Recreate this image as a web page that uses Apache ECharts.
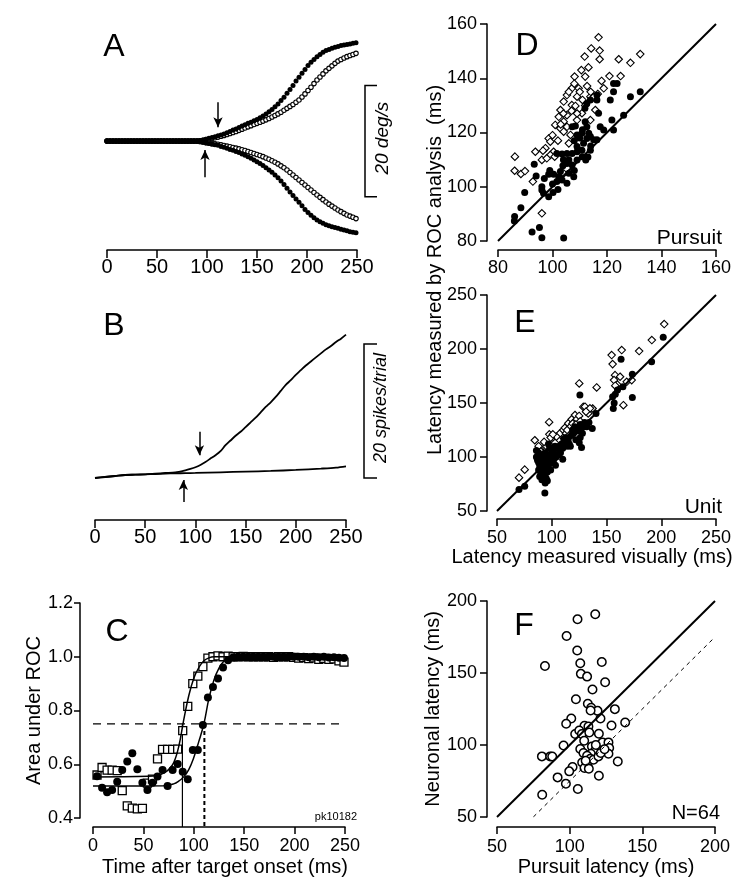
<!DOCTYPE html>
<html><head><meta charset="utf-8">
<script src="https://cdn.jsdelivr.net/npm/echarts/dist/echarts.min.js"></script>
<style>html,body{margin:0;padding:0;background:#fff}#c{width:750px;height:881px}</style>
</head><body><div id="c"></div><script>
const FONT = "'Liberation Sans', Arial, Helvetica, sans-serif";

// ---------- Panel A : eye velocity (deg/s), sampled every 3 ms ----------
const A_STEP_MS = 3;
const aUpperFilled = [0,0,0,0,0,0,0,0,0,0, 0,0,0,0,0,0,0,0,0,0, 0,0,0,0,0,0,0,0,0,0, 0,
  0.1,0.2,0.35,0.5,0.65,0.8,0.95,1.1,1.3,1.5, 1.75,2.0,2.2,2.45,2.7,2.95,3.2,3.4,3.65,3.9,
  4.2,4.5,4.9,5.3,5.7,6.2,6.7,7.3,7.9,8.6, 9.3,10.0,10.8,11.5,12.2,12.9,13.6,14.2,14.7,15.2,
  15.6,16.0,16.3,16.5,16.7,16.9,17.05,17.2,17.3,17.4, 17.5,17.6,17.7];
const aUpperOpen = [0,0,0,0,0,0,0,0,0,0, 0,0,0,0,0,0,0,0,0,0, 0,0,0,0,0,0,0,0,0,0, 0,
  0.05,0.15,0.27,0.37,0.48,0.6,0.72,0.88,1.03,1.2, 1.38,1.56,1.74,1.94,2.15,2.36,2.57,2.78,2.99,3.2,
  3.4,3.6,3.83,4.06,4.33,4.6,4.9,5.2,5.55,5.9, 6.25,6.6,7.0,7.4,7.95,8.5,9.1,9.7,10.35,11.0,
  11.55,12.1,12.65,13.1,13.55,14.0,14.4,14.7,14.95,15.2, 15.4,15.6,15.8];
const aLowerOpen = [0,0,0,0,0,0,0,0,0,0, 0,0,0,0,0,0,0,0,0,0, 0,0,0,0,0,0,0,0,0,0, 0,
  -0.05,-0.15,-0.27,-0.35,-0.42,-0.5,-0.57,-0.68,-0.79,-0.9, -1.02,-1.14,-1.26,-1.4,-1.55,-1.7,-1.86,-2.04,-2.22,-2.4,
  -2.6,-2.8,-3.03,-3.27,-3.54,-3.81,-4.1,-4.45,-4.8,-5.2, -5.65,-6.1,-6.55,-7.0,-7.45,-7.9,-8.35,-8.8,-9.25,-9.7,
  -10.12,-10.54,-10.96,-11.35,-11.7,-12.05,-12.4,-12.7,-13.0,-13.3, -13.5,-13.7,-13.95];
const aLowerFilled = [0,0,0,0,0,0,0,0,0,0, 0,0,0,0,0,0,0,0,0,0, 0,0,0,0,0,0,0,0,0,0, 0,
  -0.1,-0.2,-0.35,-0.45,-0.55,-0.65,-0.75,-0.95,-1.1,-1.3, -1.5,-1.65,-1.85,-2.05,-2.3,-2.55,-2.8,-3.1,-3.4,-3.7,
  -4.05,-4.4,-4.8,-5.2,-5.6,-6.1,-6.6,-7.2,-7.8,-8.5, -9.15,-9.8,-10.4,-11.0,-11.65,-12.3,-12.85,-13.35,-13.8,-14.2,
  -14.5,-14.8,-15.05,-15.25,-15.4,-15.55,-15.7,-15.85,-16.0,-16.15, -16.3,-16.4,-16.5];
const aArrowDown = {t: 111, from: 7.0, to: 2.5};
const aArrowUp = {t: 98, from: -6.5, to: -1.6};
const aScaleBar = 20; // deg/s

// ---------- Panel B : cumulative spikes/trial ----------
const bUpper = [[0,0],[10,0.15],[20,0.3],[30,0.45],[40,0.5],[50,0.55],[60,0.65],[70,0.75],[80,0.85],[90,1.15],[95,1.35],[100,1.6],[105,1.95],[110,2.4],[115,2.9],[120,3.4],[125,4.0],[130,4.9],[135,5.6],[140,6.3],[145,6.9],[150,7.6],[155,8.3],[160,9.0],[165,9.8],[170,10.6],[175,11.3],[180,12.1],[185,13.0],[190,13.9],[195,14.6],[200,15.4],[205,16.1],[210,16.8],[215,17.4],[220,18.0],[225,18.6],[230,19.2],[235,19.7],[240,20.3],[245,20.8],[250,21.4]];
const bLower = [[0,0],[10,0.15],[20,0.3],[30,0.45],[40,0.5],[50,0.55],[60,0.6],[70,0.65],[80,0.7],[90,0.72],[100,0.75],[125,0.85],[150,0.95],[175,1.05],[200,1.2],[225,1.4],[240,1.55],[250,1.75]];
const bArrowDown = {t: 104, from: 6.9, to: 3.4};
const bArrowUp = {t: 88, from: -3.6, to: -0.3};
const bScaleBar = 20; // spikes/trial

// ---------- Panel C : area under ROC ----------
const C_FIRST_MS = 4, C_STEP_MS = 5;
const cSquares = [0.56,0.588,0.578,0.578,0.576,0.502,0.445,0.437,0.434,0.436,
  0.53,0.545,0.62,0.655,0.655,0.655,0.656,0.725,0.815,0.9,
  0.928,0.963,0.995,1.0,1.003,1.0,1.002,1.0,1.0,1.001,
  1.0,1.0,1.0,1.0,1.0,0.998,1.0,1.0,1.0,0.998,
  0.995,0.997,0.993,0.996,0.99,0.994,0.99,0.992,0.985,0.98];
const cCircles = [0.555,0.513,0.496,0.504,0.535,0.579,0.61,0.641,0.581,0.531,
  0.504,0.531,0.554,0.579,0.519,0.579,0.601,0.572,0.544,0.653,
  0.653,0.746,0.848,0.887,0.919,0.96,0.987,0.997,1.0,1.0,
  1.0,1.0,1.0,1.0,1.0,1.0,1.0,1.0,1.0,1.0,
  1.0,1.0,0.998,1.0,0.998,1.0,0.997,0.998,0.996,0.995];
const cSquareFit = [[0,0.553],[55,0.555],[65,0.56],[70,0.567],[75,0.58],[80,0.605],[85,0.665],[90,0.765],[95,0.855],[100,0.92],[105,0.96],[110,0.985],[115,0.996],[120,1.0],[250,1.0]];
const cCircleFit = [[0,0.519],[70,0.52],[80,0.527],[85,0.537],[90,0.553],[95,0.58],[100,0.625],[105,0.685],[110,0.75],[115,0.845],[120,0.914],[125,0.958],[130,0.984],[135,0.996],[140,1.0],[250,1.0]];
const cThreshold = 0.75;
const cSquareLatency = 88.7, cCircleLatency = 110.5;

// ---------- Panel D : pursuit latency, visual vs ROC ----------
const dOpen = [[116.9,155.1],[114.2,151],[117.3,150.2],[111.8,148],[117.3,147],[124.3,147],[128.6,145.7],[132.2,148.9],[110.6,143],[113.2,144],[108.1,140.6],[112,140.6],[120.9,140.8],[125,140.8],[107.1,136.3],[109.6,136.3],[112.7,137.1],[118.8,136.3],[105.3,133.8],[109,133.2],[113.9,133.2],[116.6,134.2],[104.1,131.4],[107.1,130.1],[102.9,128.3],[105.3,126.4],[102.3,125.8],[104.1,124],[101,122.8],[102.9,121.5],[105.3,122.1],[106.6,119.1],[104.1,120.3],[108.4,129.8],[113.9,124.6],[115.7,128.3],[98.6,117.8],[99.2,116.6],[97.4,114.2],[96.5,113.3],[100.4,112.9],[99.2,111.7],[93.7,112.9],[96.1,109.9],[97.9,110.5],[100.8,111.1],[86.2,111.1],[86.1,105.9],[88.4,104.7],[89.9,105.8],[92.8,101.9],[96.1,90.2],[104.1,104.9],[109,124.6],[110.8,127.1],[106,135],[108,138],[110,135],[111,132],[107,128],[109,127],[112,130],[104,127],[103,123],[100,119],[102,117],[106,116],[114,135],[115,133],[118,139]];
const dFilled = [[86.1,89],[86,87.4],[88.4,92.3],[89.8,97.9],[93.3,108.3],[92.5,83.3],[95.2,85],[96.1,81.2],[104.1,81.1],[96.1,98.8],[96.7,97.6],[98.6,96.3],[100.2,97.9],[98.6,104.6],[100.4,104.6],[102.3,103.7],[103.5,102.5],[101.6,101.9],[102.9,105.6],[103.8,107.7],[105.3,108.6],[107.2,108],[105.3,112.3],[101.6,112.3],[103.5,112.1],[107.2,112.3],[109,112.9],[110.8,113.5],[109,114.8],[111.4,116],[112.6,117.8],[113.3,119.7],[110.8,119.7],[109,119.1],[107.2,122.1],[108.4,122.4],[112.6,122.1],[113.9,118.5],[115.1,117.3],[110.9,111.1],[112.2,109.9],[113.9,113.5],[116.3,117.3],[117.5,122.1],[118.8,120.9],[116.9,127.1],[111.9,128.9],[112.6,130.7],[113.9,132],[116.3,132],[116.3,133.8],[121.2,132],[122.4,135],[122.4,138.1],[123.7,138.1],[128.6,133.2],[132.2,135],[121.8,124.6],[122.4,120.9],[126.1,126.4],[109,109.9],[105.3,101.3],[107.8,103.7],[96.1,100],[94,104],[97,103],[99,106],[104,110],[106,110],[108,117],[110,118],[111,121],[112,124],[114,115],[113,111],[108,106],[106,105],[102,99],[100,101]];

// ---------- Panel E : unit latency, visual vs ROC ----------
const eOpen = [[202.7,223.1],[191.4,208.3],[179.8,198.1],[163.9,199],[154.7,194.4],[155.6,186],[157.8,175.8],[162.4,174.3],[156.9,171.2],[168.5,169.6],[173,171.2],[165.4,148],[141,164.4],[125.1,168.1],[97.6,132.2],[84.5,115.5],[70.1,80.9],[75.3,88.3],[128.8,146.4],[137.3,144.9],[133.3,140.3],[89.3,107.1],[92.3,100.3],[97.8,121],[100.9,112.7],[107.5,121.9],[110.5,125],[115.1,131.2],[118.2,134.9],[121.2,138.9],[130.3,146.6],[134.9,145.1],[131.3,142],[106,115.7],[104.2,118.8],[112,127],[117,128],[120,132],[123,135],[125,138],[126,133],[113,122],[103,113],[95,110],[93,114],[88,110],[90,105],[99,118],[101,121],[119,131],[114,125],[122,130],[160,167],[158,166]];
const eFilled = [[201.8,210.8],[191.2,188.2],[163.3,190.6],[173.6,176.7],[173.6,155.1],[155.6,155.7],[156.2,144.9],[157,150],[140.4,140.3],[137,126.4],[125.7,157.3],[127.2,108.7],[125.1,113.1],[103.4,92.4],[93.7,66.7],[70.1,69.8],[75.3,72.9],[165,165],[160,162],[158,158],[86,100],[87,97],[88,95],[89,92],[90,90],[91,88],[92,86],[93,84],[94,82],[95,80],[96,78],[94,76],[92,80],[90,84],[88,88],[91,96],[93,94],[95,92],[97,90],[99,88],[96,86],[98,94],[100,96],[102,98],[100,100],[98,100],[96,102],[94,104],[92,100],[90,102],[88,104],[86,106],[100,105],[102,103],[104,100],[106,102],[108,104],[105,108],[103,110],[101,108],[107,110],[109,112],[110,108],[112,114],[111,117],[113,118],[115,116],[116,112],[114,110],[118,120],[120,122],[119,125],[121,128],[123,126],[124,124],[126,130],[127,127],[129,128],[126,118],[122,116],[117,110],[130,132],[132,128],[134,132],[128,122],[98,108],[97,112],[95,98],[93,90],[91,79],[89,82],[110,98]];

// ---------- Panel F : neuronal vs pursuit latency ----------
const fPoints = [[117.6,190.8],[105.4,187.3],[97.9,175.7],[105.2,165.6],[83,154.9],[107.3,156.8],[107.7,149.4],[112,147.5],[122.1,157.7],[124.4,143.6],[115.7,138.5],[104.3,131.8],[112.5,128.6],[114.8,125.8],[119.2,123.7],[114.4,124],[131.1,124.9],[121.2,118.4],[101.1,118.4],[97.6,114.7],[128.8,113.6],[138.2,115.6],[110.2,113.3],[112.9,112.9],[103.8,107.6],[106.6,110.1],[108.4,107.6],[113.5,108.7],[120.1,107.8],[95.8,99.7],[80.9,92.1],[86.6,92.1],[107.3,97.2],[109.5,94.4],[115.3,99],[117.6,96.2],[121,99],[122.6,101.8],[126.7,101.8],[127.2,97.9],[126.7,93.9],[114.6,93.9],[112,92.5],[114.2,90.5],[116.4,89.8],[119.8,92.1],[121.4,94.4],[108.6,87.9],[112.3,85.6],[133.1,88.6],[102,84.7],[99.7,81.7],[110.2,84],[113.2,83.5],[91.7,77.5],[97.4,73.1],[120.1,78.7],[105.6,69.4],[81.1,65.5],[88,92],[110,103],[118,100],[124,97],[111,89]];
const fOffsetMs = 25;

// ---------- build ----------
const aTimes = aUpperFilled.map((_, i) => i * A_STEP_MS);
const zip = (ts, vs) => vs.map((v, i) => [ts[i], v]);
const cTimes = cSquares.map((_, i) => C_FIRST_MS + i * C_STEP_MS);

const BLACK = '#000';
function xAx(gi, min, max, interval, o) {
  return Object.assign({
    type: 'value', gridIndex: gi, min, max, interval,
    axisLine: {show: true, onZero: false, lineStyle: {color: BLACK, width: 1.5}},
    axisTick: {show: true, length: 7, lineStyle: {color: BLACK, width: 1.5}},
    axisLabel: {color: BLACK, fontSize: 18, fontFamily: FONT, margin: 10},
    splitLine: {show: false},
    nameTextStyle: {color: BLACK, fontSize: 20, fontFamily: FONT}
  }, o || {});
}
function yAx(gi, min, max, interval, o) {
  return Object.assign({
    type: 'value', gridIndex: gi, min, max, interval,
    axisLine: {show: true, onZero: false, lineStyle: {color: BLACK, width: 1.5}},
    axisTick: {show: true, length: 7, lineStyle: {color: BLACK, width: 1.5}},
    axisLabel: {color: BLACK, fontSize: 18, fontFamily: FONT, margin: 10},
    splitLine: {show: false},
    nameTextStyle: {color: BLACK, fontSize: 20, fontFamily: FONT}
  }, o || {});
}
function arrowLine(a) {
  return [{coord: [a.t, a.from]}, {coord: [a.t, a.to]}];
}
const arrowMark = (arrows) => ({
  silent: true, symbol: ['none', 'arrow'], symbolSize: [7, 10],
  lineStyle: {color: BLACK, width: 1.5, type: 'solid'}, label: {show: false},
  data: arrows.map(arrowLine)
});
const openStyle = {color: '#fff', borderColor: BLACK, borderWidth: 1.1, opacity: 1};
const fillStyle = {color: BLACK, opacity: 1};

const chart = echarts.init(document.getElementById('c'), null, {renderer: 'canvas'});
chart.setOption({
  animation: false,
  backgroundColor: '#fff',
  textStyle: {fontFamily: FONT, color: BLACK},
  grid: [
    {left: 107, top: 30, width: 250, height: 220},
    {left: 95, top: 300, width: 251, height: 220},
    {left: 93, top: 603, width: 252, height: 215},
    {left: 498, top: 24, width: 218, height: 217},
    {left: 497, top: 295, width: 219, height: 216},
    {left: 497, top: 601, width: 218, height: 216}
  ],
  xAxis: [
    xAx(0, 0, 250, 50, {axisLabel: {color: BLACK, fontSize: 20, fontFamily: FONT, margin: 7}, axisTick: {length: 8, lineStyle: {color: BLACK, width: 1.5}}}),
    xAx(1, 0, 250, 50, {axisLabel: {color: BLACK, fontSize: 20, fontFamily: FONT, margin: 7}, axisTick: {length: 8, lineStyle: {color: BLACK, width: 1.5}}}),
    xAx(2, 0, 250, 50, {offset: 9, name: 'Time after target onset (ms)', nameLocation: 'middle', nameGap: 30,
      nameTextStyle: {color: BLACK, fontSize: 20, fontFamily: FONT, padding: [0, 0, 0, 12]}}),
    xAx(3, 80, 160, 20, {offset: 9, axisLabel: {color: BLACK, fontSize: 18, fontFamily: FONT, margin: 9}}),
    xAx(4, 50, 250, 50, {offset: 8, name: 'Latency measured visually (ms)', nameLocation: 'middle', nameGap: 28,
      nameTextStyle: {color: BLACK, fontSize: 20, fontFamily: FONT, padding: [0, 29, 0, 0]}}),
    xAx(5, 50, 200, 50, {offset: 10, name: 'Pursuit latency (ms)', nameLocation: 'middle', nameGap: 30,
      axisLabel: {color: BLACK, fontSize: 18, fontFamily: FONT, margin: 11}})
  ],
  yAxis: [
    {type: 'value', gridIndex: 0, min: -19.6, max: 20, show: false},
    {type: 'value', gridIndex: 1, min: -6.27, max: 26.57, show: false},
    yAx(2, 0.4, 1.2, 0.2, {offset: 13, name: 'Area under ROC', nameLocation: 'middle', nameGap: 32,
      axisTick: {length: 6, lineStyle: {color: BLACK, width: 1.5}},
      axisLabel: {color: BLACK, fontSize: 18, fontFamily: FONT, margin: 7, formatter: v => v.toFixed(1)}}),
    yAx(3, 80, 160, 20, {offset: 11}),
    yAx(4, 50, 250, 50, {offset: 10}),
    yAx(5, 50, 200, 50, {offset: 10, name: 'Neuronal latency (ms)', nameLocation: 'middle', nameGap: 42})
  ],
  series: [
    // A
    {type: 'scatter', xAxisIndex: 0, yAxisIndex: 0, symbol: 'circle', symbolSize: 4.5, itemStyle: openStyle, data: zip(aTimes, aUpperOpen)},
    {type: 'scatter', xAxisIndex: 0, yAxisIndex: 0, symbol: 'circle', symbolSize: 4.5, itemStyle: openStyle, data: zip(aTimes, aLowerOpen)},
    {type: 'scatter', xAxisIndex: 0, yAxisIndex: 0, symbol: 'circle', symbolSize: 5, itemStyle: fillStyle, data: zip(aTimes, aUpperFilled),
      markLine: arrowMark([aArrowDown, aArrowUp])},
    {type: 'scatter', xAxisIndex: 0, yAxisIndex: 0, symbol: 'circle', symbolSize: 5, itemStyle: fillStyle, data: zip(aTimes, aLowerFilled)},
    // B
    {type: 'line', xAxisIndex: 1, yAxisIndex: 1, showSymbol: false, smooth: 0.3, lineStyle: {color: BLACK, width: 1.8}, data: bUpper,
      markLine: arrowMark([bArrowDown, bArrowUp])},
    {type: 'line', xAxisIndex: 1, yAxisIndex: 1, showSymbol: false, smooth: 0.3, lineStyle: {color: BLACK, width: 1.8}, data: bLower},
    // C
    {type: 'line', xAxisIndex: 2, yAxisIndex: 2, showSymbol: false, lineStyle: {color: BLACK, width: 1.3, type: [8, 6]}, data: [[0, cThreshold], [250, cThreshold]]},
    {type: 'line', xAxisIndex: 2, yAxisIndex: 2, showSymbol: false, smooth: 0.4, lineStyle: {color: BLACK, width: 1.5}, data: cSquareFit},
    {type: 'line', xAxisIndex: 2, yAxisIndex: 2, showSymbol: false, smooth: 0.4, lineStyle: {color: BLACK, width: 1.5}, data: cCircleFit},
    {type: 'scatter', xAxisIndex: 2, yAxisIndex: 2, symbol: 'rect', symbolSize: 8, itemStyle: Object.assign({}, openStyle, {borderWidth: 1.3}), data: zip(cTimes, cSquares)},
    {type: 'scatter', xAxisIndex: 2, yAxisIndex: 2, symbol: 'circle', symbolSize: 8, itemStyle: fillStyle, data: zip(cTimes, cCircles)},
    // D
    {type: 'line', xAxisIndex: 3, yAxisIndex: 3, showSymbol: false, lineStyle: {color: BLACK, width: 2}, data: [[80, 80], [160, 160]]},
    {type: 'scatter', xAxisIndex: 3, yAxisIndex: 3, symbol: 'diamond', symbolSize: 7.5, itemStyle: openStyle, data: dOpen},
    {type: 'scatter', xAxisIndex: 3, yAxisIndex: 3, symbol: 'circle', symbolSize: 7, itemStyle: fillStyle, data: dFilled},
    // E
    {type: 'line', xAxisIndex: 4, yAxisIndex: 4, showSymbol: false, lineStyle: {color: BLACK, width: 2}, data: [[50, 50], [250, 250]]},
    {type: 'scatter', xAxisIndex: 4, yAxisIndex: 4, symbol: 'diamond', symbolSize: 7.5, itemStyle: openStyle, data: eOpen},
    {type: 'scatter', xAxisIndex: 4, yAxisIndex: 4, symbol: 'circle', symbolSize: 7, itemStyle: fillStyle, data: eFilled},
    // F
    {type: 'line', xAxisIndex: 5, yAxisIndex: 5, showSymbol: false, lineStyle: {color: BLACK, width: 2}, data: [[50, 50], [200, 200]]},
    {type: 'line', xAxisIndex: 5, yAxisIndex: 5, showSymbol: false, lineStyle: {color: BLACK, width: 1, type: [4, 4]}, data: [[50 + fOffsetMs, 50], [200, 200 - fOffsetMs]]},
    {type: 'scatter', xAxisIndex: 5, yAxisIndex: 5, symbol: 'circle', symbolSize: 8.5, itemStyle: Object.assign({}, openStyle, {borderWidth: 1.5}), data: fPoints}
  ]
});

// ---------- annotations placed through the axes' own scales ----------
const px = (gi, pt) => chart.convertToPixel({xAxisIndex: gi, yAxisIndex: gi}, pt);
const txt = (text, x, y, size, o) => Object.assign({
  type: 'text', x, y, silent: true,
  style: Object.assign({text, fill: BLACK, fontSize: size, fontFamily: FONT,
    align: 'center', verticalAlign: 'middle', textAlign: 'center', textVerticalAlign: 'middle'}, (o && o.style) || {})
}, o ? {rotation: o.rotation || 0} : {});
const g = [];
// scale bars
(function () {
  const top = px(0, [250, aScaleBar / 2]), bot = px(0, [250, -aScaleBar / 2]);
  const x = top[0] + 8;
  g.push({type: 'polyline', silent: true, shape: {points: [[x + 12, top[1]], [x, top[1]], [x, bot[1]], [x + 12, bot[1]]]},
    style: {stroke: BLACK, lineWidth: 1.5, fill: null}});
  g.push(txt('20 deg/s', x + 18, (top[1] + bot[1]) / 2 - 3, 19, {rotation: Math.PI / 2, style: {fontStyle: 'italic'}}));
})();
(function () {
  const top = px(1, [250, bScaleBar]), bot = px(1, [250, 0]);
  const x = top[0] + 18;
  g.push({type: 'polyline', silent: true, shape: {points: [[x + 13, top[1]], [x, top[1]], [x, bot[1]], [x + 13, bot[1]]]},
    style: {stroke: BLACK, lineWidth: 1.5, fill: null}});
  g.push(txt('20 spikes/trial', x + 17, (top[1] + bot[1]) / 2 - 3, 18, {rotation: Math.PI / 2, style: {fontStyle: 'italic'}}));
})();
// C latency drop lines down to the x axis
(function () {
  const axisY = px(2, [0, 0.4])[1] + 9;
  const s = px(2, [cSquareLatency, cThreshold]);
  const c = px(2, [cCircleLatency, cThreshold]);
  g.push({type: 'line', silent: true, shape: {x1: s[0], y1: s[1], x2: s[0], y2: axisY}, style: {stroke: BLACK, lineWidth: 1.2}});
  g.push({type: 'line', silent: true, shape: {x1: c[0], y1: c[1], x2: c[0], y2: axisY}, style: {stroke: BLACK, lineWidth: 2, lineDash: [4, 3]}});
})();
// panel letters
g.push(txt('A', 114, 47, 32));
g.push(txt('B', 114, 326, 32));
g.push(txt('C', 117, 632, 32));
g.push(txt('D', 527, 46, 32));
g.push(txt('E', 525, 323, 32));
g.push(txt('F', 524, 626, 32));
// corner labels
g.push(txt('Pursuit', 722, 238, 21, {style: {align: 'right', textAlign: 'right'}}));
g.push(txt('Unit', 722, 507, 21, {style: {align: 'right', textAlign: 'right'}}));
g.push(txt('N=64', 720, 813, 20, {style: {align: 'right', textAlign: 'right'}}));
g.push(txt('pk10182', 357, 817, 11, {style: {align: 'right', textAlign: 'right'}}));
// shared y label for D and E
g.push(txt('Latency measured by ROC analysis  (ms)', 435, 270, 20, {rotation: Math.PI / 2}));
chart.setOption({graphic: {elements: g}});
</script></body></html>
